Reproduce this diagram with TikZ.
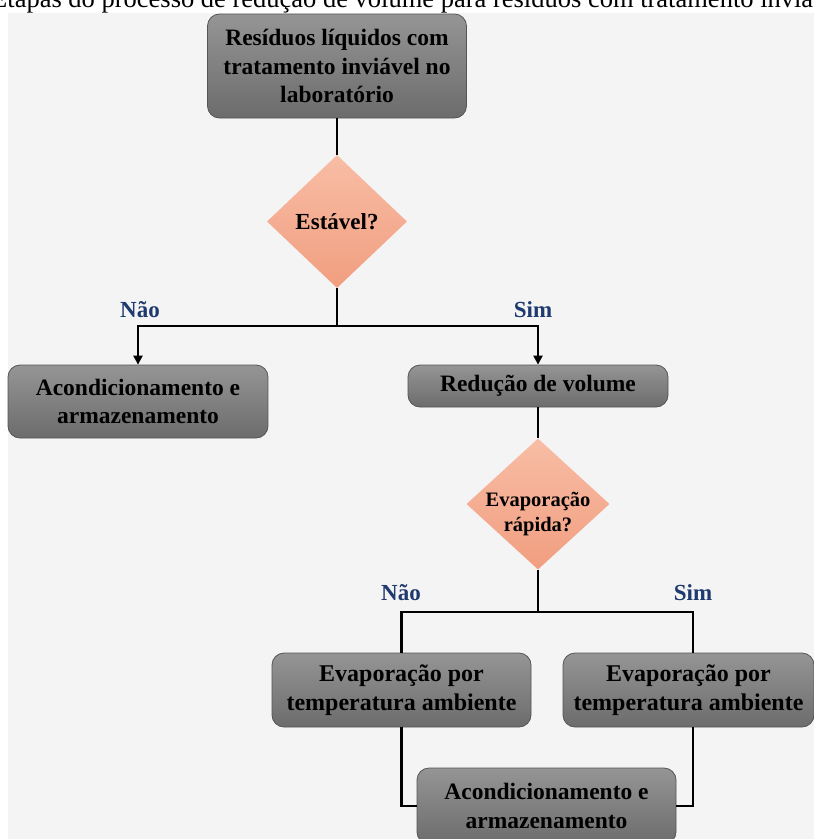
\documentclass[tikz,border=0pt]{standalone}
\usepackage{fontspec}
\setmainfont{Liberation Serif}
\usetikzlibrary{shapes.geometric,arrows.meta}
\definecolor{bgray}{HTML}{F4F4F4}
\definecolor{navy}{HTML}{1F3A6E}
\definecolor{boxtop}{HTML}{959595}
\definecolor{boxbot}{HTML}{6C6C6C}
\definecolor{boxedge}{HTML}{555555}
\definecolor{dtop}{HTML}{F8BDA5}
\definecolor{dbot}{HTML}{F19E80}
\tikzset{
  procbox/.style={draw=boxedge, line width=0.8pt, rounded corners=12pt, top color=boxtop, bottom color=boxbot,
    align=center, inner sep=2pt, font=\fontsize{23.5}{28.5}\selectfont\bfseries},
  decision/.style={diamond, draw=none, top color=dtop, bottom color=dbot, inner sep=0pt},
  dtext/.style={align=center, inner sep=0pt, font=\fontsize{23}{27}\selectfont\bfseries},
  conn/.style={line width=2.8pt, black},
  arr/.style={conn, -{Triangle[length=9pt,width=9pt]}},
  lbl/.style={text=navy, font=\fontsize{23}{27}\selectfont\bfseries},
}
\begin{document}
\begin{tikzpicture}[x=1pt,y=-1pt]
\clip (0,0) rectangle (814,839);
\useasboundingbox (0,0) rectangle (814,839);
\fill[white] (0,0) rectangle (814,839);
\fill[bgray] (8,13) rectangle (814,839);
\node[anchor=base west, font=\fontsize{26.5}{31}\selectfont, inner sep=0pt] (title) at (-9,7)
  {Etapas do processo de redução de volume para resíduos com tratamento inviável};

\node[procbox, minimum width=259pt, minimum height=104pt] (top) at (337,66)
  {Resíduos líquidos com\\tratamento inviável no\\laboratório};
\node[decision, minimum width=140pt, minimum height=133pt] (d1) at (337,221.5) {};
\node[dtext] (d1t) at (d1.center) {Estável?};
\node[procbox, minimum width=260pt, minimum height=73pt] (left) at (138,401.5)
  {Acondicionamento e\\armazenamento};
\node[procbox, minimum width=260pt, minimum height=42pt] (red) at (538,386)
  {Redução de volume};
\node[decision, minimum width=143pt, minimum height=131pt] (d2) at (538,504) {};
\node[dtext, font=\fontsize{20.5}{25}\selectfont\bfseries] (d2t) at ([yshift=-10pt]d2.center)
  {Evaporação\\rápida?};
\node[procbox, minimum width=259pt, minimum height=74pt, font=\fontsize{24}{28.5}\selectfont\bfseries] (levap) at (401.5,690)
  {Evaporação por\\temperatura ambiente};
\node[procbox, minimum width=251pt, minimum height=74pt, font=\fontsize{24}{28.5}\selectfont\bfseries] (revap) at (688.5,690)
  {Evaporação por\\temperatura ambiente};
\node[procbox, minimum width=259pt, minimum height=76pt] (bot) at (546.5,806)
  {Acondicionamento e\\armazenamento};

\node[lbl] (n1) at (140,310) {Não};
\node[lbl] (s1) at (533,310) {Sim};
\node[lbl] (n2) at (401,593) {Não};
\node[lbl] (s2) at (693,593) {Sim};

\coordinate (j1) at (337,326);
\coordinate (j2) at (538,612);
\coordinate (rt) at (693,653);
\coordinate (rb) at (693,727);

\draw[conn] (top.south) -- (d1.north);
\draw[conn] (d1.south) -- (j1);
\draw[arr] (j1) -| (left.north);
\draw[arr] (j1) -| (red.north);
\draw[conn] (red.south) -- (d2.north);
\draw[conn] (d2.south) -- (j2);
\draw[conn] (j2) -| (levap.north);
\draw[conn] (j2) -| (rt);
\draw[conn] (levap.south) |- (bot.west);
\draw[conn] (rb) |- (bot.east);
\end{tikzpicture}
\end{document}
